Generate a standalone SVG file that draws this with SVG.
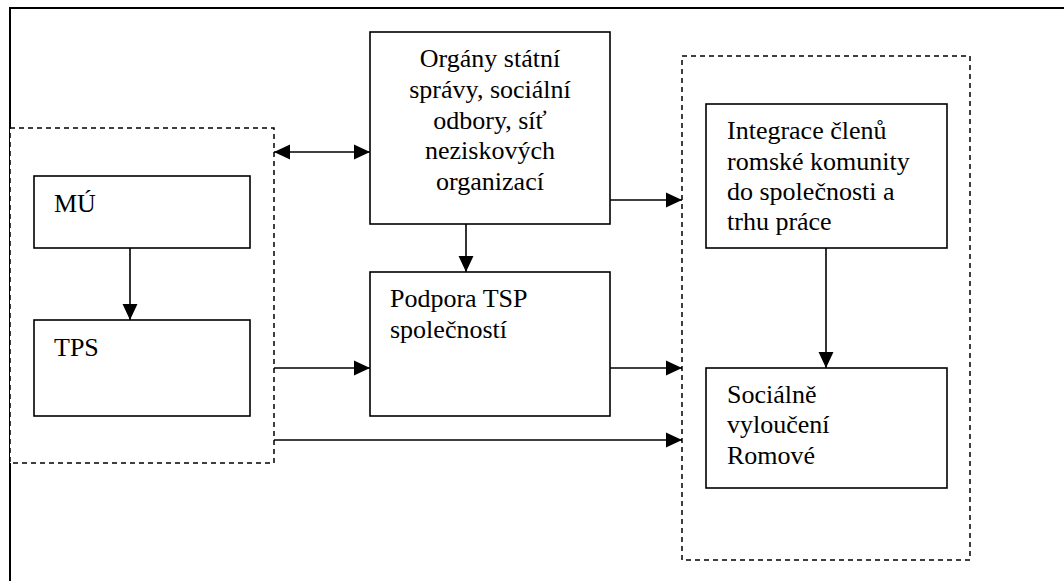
<svg xmlns="http://www.w3.org/2000/svg" width="1064" height="581" viewBox="0 0 1064 581">
<style>
.box{fill:#fff;stroke:#000;stroke-width:1.6}
.dash{fill:#fff;stroke:#000;stroke-width:1.5;stroke-dasharray:5,4}
.t{font-family:'Liberation Serif','DejaVu Serif',serif;font-size:26px;fill:#000}
.c{stroke:#000;stroke-width:1.6;fill:none}
</style>
<defs>
<marker id="ah" markerUnits="userSpaceOnUse" markerWidth="16" markerHeight="16" viewBox="0 0 15 14" refX="15" refY="7" orient="auto">
<path d="M0,0 L15,7 L0,14 Z" fill="#000"/>
</marker>
<marker id="as" markerUnits="userSpaceOnUse" markerWidth="16" markerHeight="16" viewBox="0 0 15 14" refX="0" refY="7" orient="auto">
<path d="M15,0 L0,7 L15,14 Z" fill="#000"/>
</marker>
</defs>
<rect id="frame" x="10" y="8" width="1070" height="600" fill="#fff" stroke="#000" stroke-width="2"/>
<g id="leftgroup"><rect class="dash" x="10" y="128" width="264" height="335"/></g>
<g id="rightgroup"><rect class="dash" x="682" y="56" width="288" height="504"/></g>
<g id="mu"><rect class="box" x="34" y="176" width="216" height="72"/><text class="t" font-family="Liberation Serif, serif" x="54" y="212">MÚ</text></g>
<g id="tps"><rect class="box" x="34" y="320" width="216" height="96"/><text class="t" font-family="Liberation Serif, serif" x="54" y="356">TPS</text></g>
<g id="organy"><rect class="box" x="370" y="32" width="240" height="192"/>
<text class="t" font-family="Liberation Serif, serif" text-anchor="middle"><tspan x="490" y="67">Orgány státní</tspan><tspan x="490" y="98">správy, sociální</tspan><tspan x="490" y="129">odbory, síť</tspan><tspan x="490" y="159">neziskových</tspan><tspan x="490" y="190">organizací</tspan></text></g>
<g id="podpora"><rect class="box" x="370" y="272" width="240" height="144"/>
<text class="t" font-family="Liberation Serif, serif"><tspan x="390" y="307">Podpora TSP</tspan><tspan x="390" y="338">společností</tspan></text></g>
<g id="integrace"><rect class="box" x="706" y="104" width="241" height="144"/>
<text class="t" font-family="Liberation Serif, serif"><tspan x="727" y="139">Integrace členů</tspan><tspan x="727" y="170">romské komunity</tspan><tspan x="727" y="200">do společnosti a</tspan><tspan x="727" y="230">trhu práce</tspan></text></g>
<g id="socialne"><rect class="box" x="706" y="368" width="241" height="120"/>
<text class="t" font-family="Liberation Serif, serif"><tspan x="727" y="403">Sociálně</tspan><tspan x="727" y="433">vyloučení</tspan><tspan x="727" y="464">Romové</tspan></text></g>
<g id="connectors">
<line class="c" x1="274" y1="152" x2="370" y2="152" marker-start="url(#as)" marker-end="url(#ah)"/>
<line class="c" x1="130" y1="248" x2="130" y2="320" marker-end="url(#ah)"/>
<line class="c" x1="466" y1="224" x2="466" y2="272" marker-end="url(#ah)"/>
<line class="c" x1="610" y1="200" x2="682" y2="200" marker-end="url(#ah)"/>
<line class="c" x1="274" y1="368" x2="370" y2="368" marker-end="url(#ah)"/>
<line class="c" x1="610" y1="368" x2="682" y2="368" marker-end="url(#ah)"/>
<line class="c" x1="274" y1="440" x2="682" y2="440" marker-end="url(#ah)"/>
<line class="c" x1="826" y1="248" x2="826" y2="368" marker-end="url(#ah)"/>
</g>
</svg>
